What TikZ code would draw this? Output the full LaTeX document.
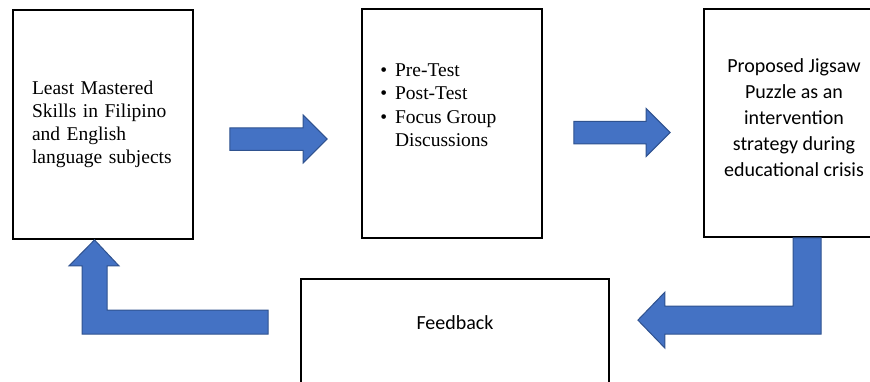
\documentclass[tikz,border=0pt]{standalone}
\usepackage{fontspec}
\setmainfont{Liberation Serif}
\newfontfamily\calibri{Carlito}
\usetikzlibrary{positioning,calc}
\definecolor{arrowblue}{HTML}{4472C4}
\definecolor{arrowedge}{HTML}{2F528F}

\begin{document}
\begin{tikzpicture}[
    x = 1pt,
    y = -1pt,
    frame/.style={
        draw = black,
        line width = 1.8pt,
        fill = white,
        inner sep = 0pt
    },
    serif/.style={
        font = \fontsize{19.5}{23}\selectfont
    },
    sans/.style={
        font = \calibri\fontsize{20}{26}\selectfont,
        align = center,
        inner sep = 0pt
    },
    blockarrow/.style={
        fill = arrowblue,
        draw = arrowedge,
        line width = 1pt,
        line join = miter
    }
    ]

\useasboundingbox (0,0) rectangle (870,381);
\clip (0,0) rectangle (870,381);

% boxes
\node[frame, serif, minimum width=180pt, minimum height=229pt, text width=142pt, align=left] (mastered) at (103,124.5)
    {Least Mastered\\Skills in Filipino\\and English\\language subjects};
\node[frame, minimum width=180pt, minimum height=229pt] (tests) at (452,123.5) {};
\node[serif, inner sep=0pt, below right=51.5pt and 19pt of tests.north west] (testlist)
    {\fontsize{19.5}{23.5}\selectfont
     \begin{tabular}{@{}l@{\hspace{8pt}}l@{}}
     \textbullet & Pre-Test\\
     \textbullet & Post-Test\\
     \textbullet & Focus Group\\
                 & Discussions
     \end{tabular}};
\node[frame, minimum width=180pt, minimum height=228pt] (jigsaw) at (794,123) {};
\node[sans] (jigsawtext) at ([yshift=5pt]jigsaw.center)
    {Proposed Jigsaw\\Puzzle as an\\intervention\\strategy during\\educational crisis};
\node[frame, minimum width=308pt, minimum height=150pt] (feedback) at (455,354) {};
\node[sans] (feedbacktext) at ([yshift=-44.5pt]feedback.north) {Feedback};

% arrow ends
\coordinate (a1) at ($(mastered.east)+(36,14.5)$);
\coordinate (b1) at ($(tests.west)+(-34,15.5)$);
\coordinate (a2) at ($(tests.east)+(31,9)$);
\coordinate (b2) at ($(jigsaw.west)+(-33,9.5)$);
\coordinate (c3) at ($(jigsaw.south)+(-1,0)$);
\coordinate (d3) at ($(feedback.north east)+(28,42)$);
\coordinate (e4) at ($(feedback.north west)+(-32,44)$);
\coordinate (f4) at ($(mastered.south)+(-8.5,0)$);

\foreach \s/\e in {a1/b1,a2/b2}
    \draw[blockarrow] (\s) ++(0,-11.25) -| ($(\e)+(-24,-24)$) -- (\e)
        -- ($(\e)+(-24,24)$) |- ($(\s)+(0,11.25)$) -- cycle;

\draw[blockarrow] (c3) -- ++(28,0) |- ($(d3)+(27,14)$) -- ++(0,14) -- (d3)
    -- ($(d3)+(27,-28)$) -- ++(0,14) -| (c3) -- cycle;
\draw[blockarrow] ($(e4)+(0,-12)$) -- ++(0,24) -| ($(f4)+(-12.5,26)$) -- ++(-13,0) -- (f4)
    -- ($(f4)+(24.5,26)$) -- ++(-12,0) |- ($(e4)+(0,-12)$) -- cycle;
\end{tikzpicture}
\end{document}
